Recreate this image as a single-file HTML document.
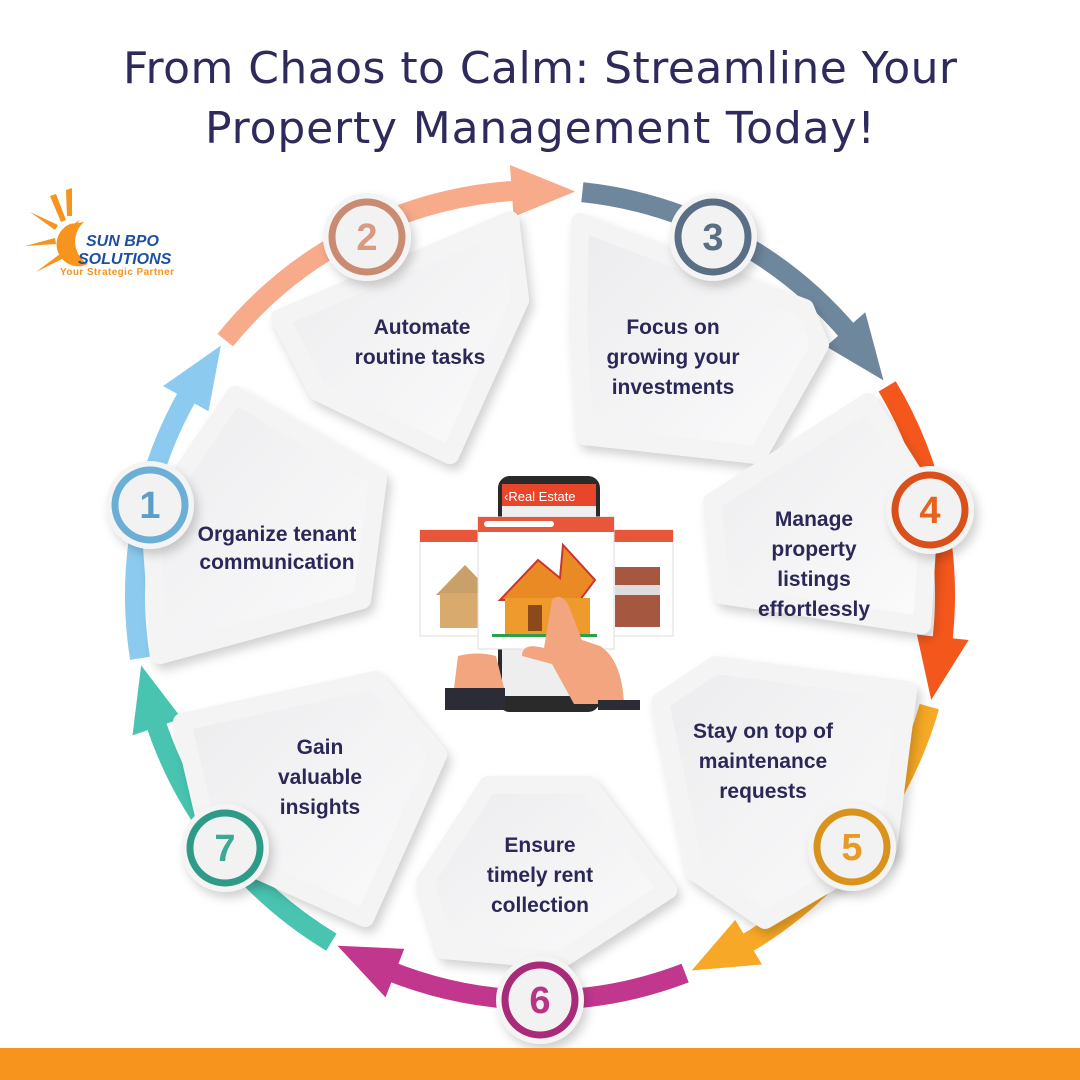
<!DOCTYPE html>
<html><head><meta charset="utf-8"><style>
html,body{margin:0;padding:0;background:#fff}
svg{display:block}
text{font-family:"Liberation Sans",sans-serif}
.t{font-size:21px;font-weight:bold;fill:#2b2857;text-anchor:middle}
.n{font-size:38px;font-weight:bold;text-anchor:middle}
</style></head><body>
<svg id="s" width="1080" height="1080" viewBox="0 0 1080 1080" xmlns="http://www.w3.org/2000/svg">
<defs>
<filter id="sh" x="-20%" y="-20%" width="140%" height="140%"><feDropShadow dx="4" dy="6" stdDeviation="5" flood-color="#000" flood-opacity="0.18"/></filter>
<linearGradient id="pg" x1="0" y1="0" x2="1" y2="1"><stop offset="0" stop-color="#ececee"/><stop offset="1" stop-color="#fbfbfc"/></linearGradient>
</defs>
<text x="540" y="83" text-anchor="middle" font-size="44" font-weight="500" fill="#2e2a5c" style="font-family:'DejaVu Sans',sans-serif" textLength="834">From Chaos to Calm: Streamline Your</text>
<text x="540" y="143" text-anchor="middle" font-size="44" fill="#2e2a5c" style="font-family:'DejaVu Sans',sans-serif" textLength="670">Property Management Today!</text>
<!-- logo -->
<g fill="#f7941d">
<path d="M84 222 a24 24 0 0 0 2 44 a30 30 0 0 1 -2 -44z" transform="translate(-4,-2)"/>
<path d="M70 224 a22 22 0 0 0 12 42 l6 -2 a26 26 0 0 1 -4 -42z"/>
<polygon points="50,196 56,194 66,220 61,222"/>
<polygon points="66,190 72,188 72,216 67,216"/>
<polygon points="30,212 58,225 55,230"/>
<polygon points="25,246 55,238 56,244"/>
<polygon points="36,272 60,254 64,258"/>
</g>
<text x="86" y="246" font-size="16" font-weight="bold" font-style="italic" fill="#1d4fa3">SUN BPO</text>
<text x="78" y="264" font-size="16" font-weight="bold" font-style="italic" fill="#1d4fa3">SOLUTIONS</text>
<text x="60" y="275" font-size="10" font-weight="bold" fill="#f7941d" textLength="114">Your Strategic Partner</text>
<g id="ring"></g>
<!-- panels -->
<g fill="url(#pg)" stroke="#f4f4f5" stroke-width="18" stroke-linejoin="round" filter="url(#sh)">
<polygon points="280,318 510,220 520,300 450,455 318,392"/>
<polygon points="580,222 805,308 820,345 758,455 585,436 578,330"/>
<polygon points="235,395 378,478 362,600 160,655 150,520"/>
<polygon points="712,502 868,402 930,500 922,625 722,595"/>
<polygon points="660,702 715,665 908,690 888,848 765,920 695,872"/>
<polygon points="425,882 488,785 588,785 668,890 560,960 445,950"/>
<polygon points="182,722 375,680 438,755 365,918 212,850"/>
</g>
<text class="t" x="422" y="334">Automate</text><text class="t" x="420" y="364">routine tasks</text>
<text class="t" x="673" y="334">Focus on</text><text class="t" x="673" y="364">growing your</text><text class="t" x="673" y="394">investments</text>
<text class="t" x="277" y="541">Organize tenant</text><text class="t" x="277" y="569">communication</text>
<text class="t" x="814" y="526">Manage</text><text class="t" x="814" y="556">property</text><text class="t" x="814" y="586">listings</text><text class="t" x="814" y="616">effortlessly</text>
<text class="t" x="763" y="738">Stay on top of</text><text class="t" x="763" y="768">maintenance</text><text class="t" x="763" y="798">requests</text>
<text class="t" x="540" y="852">Ensure</text><text class="t" x="540" y="882">timely rent</text><text class="t" x="540" y="912">collection</text>
<text class="t" x="320" y="754">Gain</text><text class="t" x="320" y="784">valuable</text><text class="t" x="320" y="814">insights</text>
<g id="nums"></g>
<!-- center illustration -->
<g>
<rect x="498" y="476" width="102" height="236" rx="12" fill="#2a2a2a"/>
<rect x="502" y="484" width="94" height="22" fill="#e8462b"/>
<text x="504" y="501" font-size="13" fill="#fff">‹Real Estate</text>
<rect x="502" y="506" width="94" height="190" fill="#eee"/>
<rect x="420" y="530" width="82" height="106" fill="#fff" stroke="#ddd"/>
<rect x="420" y="530" width="82" height="12" fill="#e8573b"/>
<polygon points="436,595 465,565 494,595" fill="#c9a06a"/>
<rect x="440" y="593" width="52" height="35" fill="#d8aa6e"/>
<rect x="492" y="628" width="5" height="3" fill="#2aa04a"/>
<rect x="595" y="530" width="78" height="106" fill="#fff" stroke="#ddd"/>
<rect x="595" y="530" width="78" height="12" fill="#e8573b"/>
<rect x="615" y="567" width="45" height="60" fill="#a5573f"/>
<rect x="615" y="585" width="45" height="10" fill="#ddd"/>
<rect x="478" y="517" width="136" height="132" fill="#fff" stroke="#ddd"/>
<rect x="478" y="517" width="136" height="15" fill="#e8573b"/>
<rect x="484" y="521" width="70" height="6" rx="3" fill="#fff"/>
<polygon points="500,600 538,560 560,578 563,545 595,580 580,600" fill="#e98a25" stroke="#c33" stroke-width="2"/>
<rect x="505" y="598" width="85" height="36" fill="#ef9a2d"/>
<rect x="528" y="605" width="14" height="26" fill="#8c4a1a"/>
<rect x="492" y="634" width="105" height="3" fill="#2aa04a"/>
<path d="M552 600 q8 -8 16 4 l14 36 l18 6 q22 14 24 58 l-50 0 l-22 -40 l-30 -8 q0 -14 22 -8z" fill="#f2a57e"/>
<path d="M458 656 q20 -5 38 0 l8 32 l-50 0z" fill="#f2a57e"/>
<rect x="445" y="688" width="60" height="22" fill="#2c2c36"/>
<rect x="598" y="700" width="42" height="10" fill="#2c2c36"/>
</g>
<rect x="0" y="1048" width="1080" height="32" fill="#f7941d"/>
</svg>
<script>
var cx=540,cy=595,R=405;
function P(a,r){a=a*Math.PI/180;return[cx+r*Math.cos(a),cy+r*Math.sin(a)];}
var segs=[[170,218,"#8ccbef"],[218,275,"#f7ab8b"],[275,328,"#6f879d"],[328,375,"#f4571c"],[375,428,"#f6a826"],[428,480,"#c2378e"],[480,530,"#48c4b0"]];
var g=document.getElementById("ring"),h="";
segs.forEach(function(s){
var a0=s[0]+1,a1=s[1]-8,p0=P(a0,R),p1=P(a1,R);
h+='<path d="M'+p0+' A'+R+' '+R+' 0 0 1 '+p1+'" fill="none" stroke="'+s[2]+'" stroke-width="20"/>';
var t=P(s[1],R),b1=P(a1-1,R+26),b2=P(a1-1,R-26);
h+='<polygon points="'+t+' '+b1+' '+b2+'" fill="'+s[2]+'"/>';
});
g.innerHTML=h;
var nums=[[150,505,"1","#6baed6","#5b9ec8"],[367,237,"2","#c98c72","#d89a80"],[713,237,"3","#5a6f85","#5a6f85"],[930,510,"4","#d9501a","#e8621f"],[852,847,"5","#d9921c","#e89a25"],[540,1000,"6","#a82a78","#b83585"],[225,848,"7","#2e9a88","#3aaa95"]];
var n="";
nums.forEach(function(c){
n+='<circle cx="'+c[0]+'" cy="'+c[1]+'" r="44" fill="#f4f4f5" filter="url(#sh)"/>';
n+='<circle cx="'+c[0]+'" cy="'+c[1]+'" r="35" fill="#f2f2f3" stroke="'+c[3]+'" stroke-width="7"/>';
n+='<text class="n" x="'+c[0]+'" y="'+(c[1]+13)+'" fill="'+c[4]+'">'+c[2]+'</text>';
});
document.getElementById("nums").innerHTML=n;
</script>
</body></html>
